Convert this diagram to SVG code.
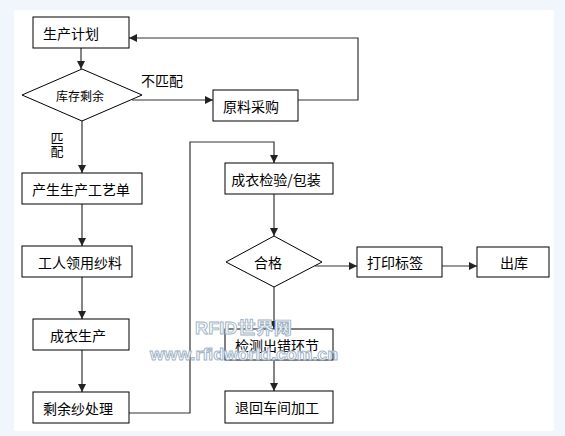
<svg xmlns="http://www.w3.org/2000/svg" width="565" height="436" viewBox="0 0 565 436">
<defs>
<style>
.box{fill:#fff;stroke:#000;stroke-width:1}
.t{font-family:"Noto Sans CJK SC","Liberation Sans",sans-serif;font-size:14px;fill:#000;text-anchor:middle;dominant-baseline:central}
.ts{font-size:12px}
.tv{font-family:"Noto Sans CJK SC","Liberation Sans",sans-serif;font-size:13px;fill:#000;text-anchor:middle;writing-mode:vertical-rl}
.c{fill:none;stroke:#333;stroke-width:1.2}
.wm{font-family:"Liberation Sans","Noto Sans CJK SC",sans-serif;fill:#fff;stroke:#9fb3c6;stroke-width:0.9;font-weight:bold}
</style>
<marker id="ah" viewBox="0 0 10 10" refX="10" refY="5" markerWidth="8" markerHeight="8" markerUnits="userSpaceOnUse" orient="auto">
<path d="M0,0 L10,5 L0,10 z" fill="#222"/>
</marker>
</defs>
<rect x="0" y="0" width="565" height="436" fill="#f1f6fc"/>
<rect x="14" y="10" width="540" height="421" fill="#fff"/>

<g id="connectors">
<path class="c" d="M81,48 V69" marker-end="url(#ah)"/>
<path class="c" d="M132,100 H213" marker-end="url(#ah)"/>
<path class="c" d="M298,100 H358 V38 H129" marker-end="url(#ah)"/>
<path class="c" d="M82,121 V173" marker-end="url(#ah)"/>
<path class="c" d="M82,204 V246" marker-end="url(#ah)"/>
<path class="c" d="M82,277 V319" marker-end="url(#ah)"/>
<path class="c" d="M82,350 V392" marker-end="url(#ah)"/>
<path class="c" d="M129,413 H190 V142 H274 V163" marker-end="url(#ah)"/>
<path class="c" d="M274,194 V236" marker-end="url(#ah)"/>
<path class="c" d="M315,266 H357" marker-end="url(#ah)"/>
<path class="c" d="M442,266 H477" marker-end="url(#ah)"/>
<path class="c" d="M274,287 V329" marker-end="url(#ah)"/>
<path class="c" d="M274,360 V391" marker-end="url(#ah)"/>
</g>

<g id="labels">
<text class="t" x="162" y="80">不匹配</text>
<text class="tv" x="57" y="145">匹配</text>
</g>

<g id="n1"><rect class="box" x="33" y="17" width="96" height="31"/><text class="t" x="71" y="33">生产计划</text></g>
<g id="n2"><polygon class="box" points="82,69 142,95 82,121 22,95"/><text class="t ts" x="80" y="95">库存剩余</text></g>
<g id="n3"><rect class="box" x="213" y="90" width="85" height="31"/><text class="t" x="251" y="106">原料采购</text></g>
<g id="n4"><rect class="box" x="22" y="173" width="120" height="31"/><text class="t" x="81" y="189">产生生产工艺单</text></g>
<g id="n5"><rect class="box" x="22" y="246" width="110" height="31"/><text class="t" x="80" y="262">工人领用纱料</text></g>
<g id="n6"><rect class="box" x="33" y="319" width="96" height="31"/><text class="t" x="78" y="335">成衣生产</text></g>
<g id="n7"><rect class="box" x="33" y="392" width="96" height="31"/><text class="t" x="78" y="408">剩余纱处理</text></g>
<g id="n8"><rect class="box" x="225" y="163" width="108" height="31"/><text class="t" x="276" y="179">成衣检验/包装</text></g>
<g id="n9"><polygon class="box" points="274,236 322,262 274,287 226,262"/><text class="t" x="268" y="262">合格</text></g>
<g id="n10"><rect class="box" x="357" y="247" width="85" height="30"/><text class="t" x="395" y="262">打印标签</text></g>
<g id="n11"><rect class="box" x="477" y="247" width="72" height="30"/><text class="t" x="514" y="262">出库</text></g>
<g id="n12"><rect class="box" x="225" y="329" width="108" height="31"/><text class="t" x="277" y="345">检测出错环节</text></g>
<g id="n13"><rect class="box" x="225" y="391" width="108" height="32"/><text class="t" x="277" y="407">退回车间加工</text></g>

<g id="watermark">
<text class="wm" x="195" y="334" font-size="17" textLength="97" lengthAdjust="spacingAndGlyphs">RFID世界网</text>
<text class="wm" x="150" y="360" font-size="16" textLength="188" lengthAdjust="spacingAndGlyphs">www.rfidworld.com.cn</text>
</g>
</svg>
